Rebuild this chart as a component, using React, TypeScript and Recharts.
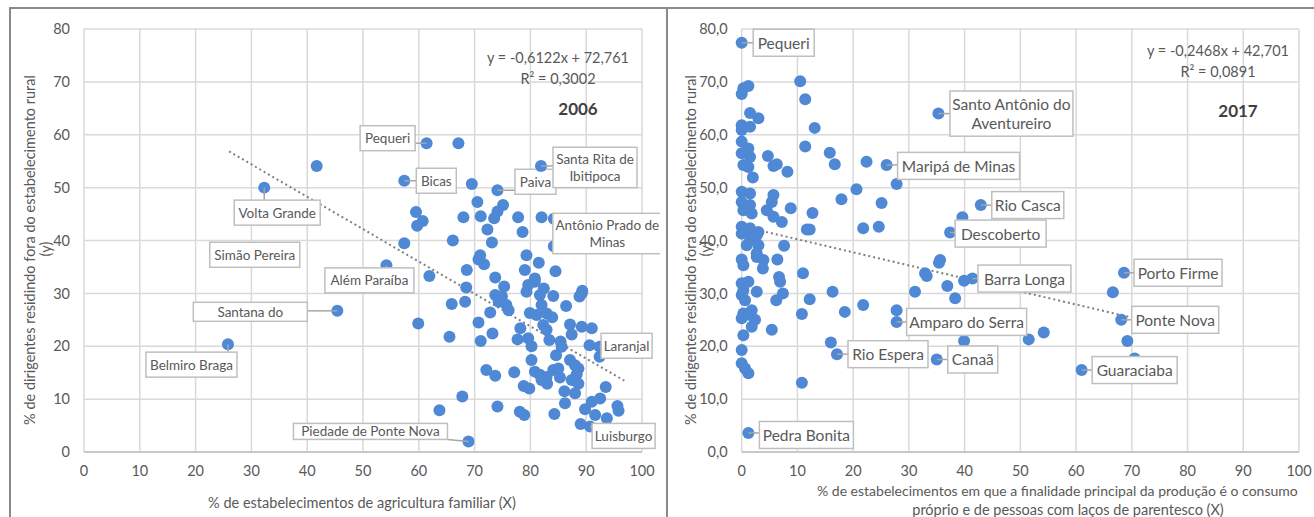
import React from "react";
import {
  ScatterChart,
  Scatter,
  XAxis,
  YAxis,
  CartesianGrid,
  ReferenceLine,
} from "recharts";

const DOT = "#4f88d4";
const GRID = "#d9d9d9";
const TEXT = "#595959";
const FONT = "Lato, 'Open Sans', sans-serif";

// ── 2006: % agricultura familiar (x) vs % dirigentes fora (y) ────────────────
const X_2006 = [
  41.7, 69.5, 70.5, 75.1, 74.1, 73.5, 71.1, 68.0, 59.5, 60.7, 59.7, 77.8, 82.0,
  72.3, 78.6, 66.1, 73.1, 57.4, 84.2, 71.0, 70.7, 71.7, 79.3, 81.5, 79.0, 84.5,
  80.8, 68.6, 61.9, 73.7, 75.3, 79.6, 80.8, 82.4, 89.3, 68.5, 79.3, 81.7, 84.1,
  89.2, 88.8, 73.7, 74.9, 74.3, 75.7, 76.1, 68.3, 65.9, 72.8, 70.7, 59.9, 65.5,
  73.2, 71.1, 82.0, 86.4, 79.9, 81.1, 82.9, 83.9, 78.2, 82.3, 82.9, 87.1, 87.4,
  89.2, 91.0, 77.7, 79.6, 83.4, 80.2, 85.4, 84.6, 85.6, 90.6, 92.4, 80.2, 72.1,
  73.7, 77.1, 80.8, 81.7, 82.9, 84.1, 85.0, 85.3, 82.0, 83.0, 87.1, 88.0, 88.6,
  88.3, 87.4, 88.6, 78.8, 79.8, 86.1, 88.0, 93.5, 92.5, 91.0, 89.8, 86.2, 95.6,
  95.8, 91.6, 93.7, 89.0, 67.8, 63.7, 74.1, 78.1, 78.9, 84.3, 67.1,
];
const Y_2006 = [
  54.1, 50.7, 47.3, 46.7, 45.5, 44.2, 44.6, 44.4, 45.4, 43.7, 42.8, 44.4, 44.4,
  42.1, 41.6, 40.0, 39.6, 39.5, 38.9, 37.2, 36.4, 35.5, 37.2, 35.8, 34.4, 34.2,
  32.8, 34.4, 33.3, 33.0, 31.3, 31.6, 32.2, 30.9, 30.5, 31.1, 30.3, 29.7, 29.5,
  30.0, 29.4, 29.7, 29.4, 28.4, 27.8, 26.8, 28.4, 28.0, 26.4, 24.5, 24.3, 21.8,
  22.4, 21.0, 27.8, 27.6, 26.3, 25.9, 26.2, 25.5, 23.4, 24.0, 23.1, 24.1, 22.2,
  23.7, 23.4, 21.3, 21.5, 21.2, 20.0, 20.9, 18.3, 19.9, 20.2, 18.0, 17.4, 15.5,
  14.4, 15.1, 15.2, 14.6, 14.2, 15.5, 15.8, 14.1, 13.6, 12.9, 17.4, 16.4, 15.8,
  14.7, 13.6, 12.9, 12.5, 12.0, 11.5, 11.1, 12.3, 10.1, 9.5, 8.1, 9.2, 8.7,
  7.8, 7.0, 6.4, 5.3, 10.5, 7.9, 8.6, 7.6, 7.0, 7.2, 58.4,
];
const NAMES_2006 = [
  "Pequeri", "Bicas", "Paiva", "Santa Rita de Ibitipoca", "Antônio Prado de Minas",
  "Laranjal", "Luisburgo", "Piedade de Ponte Nova", "Além Paraíba", "Santana do",
  "Simão Pereira", "Volta Grande", "Belmiro Braga",
];
const NX_2006 = [61.4, 57.4, 74.1, 81.9, 84.2, 92.4, 90.7, 68.9, 54.2, 45.4, 30.6, 32.3, 25.8];
const NY_2006 = [58.4, 51.3, 49.5, 54.1, 44.1, 19.9, 4.8, 2.0, 35.3, 26.7, 37.3, 50.0, 20.4];

// ── 2017: % autoconsumo/parentesco (x) vs % dirigentes fora (y) ──────────────
const X_2017 = [
  10.5, 11.4, 1.2, 0.3, 0, 1.5, 3.0, 13.1, 0, 1.5, 0, 11.4, 15.8, 16.7, 22.4,
  27.8, 0, 1.2, 0, 1.5, 0.3, 1.2, 2.0, 4.7, 5.7, 6.3, 8.2, 20.6, 17.9, 25.1, 0,
  1.5, 0, 1.5, 0.3, 1.8, 5.7, 5.4, 4.5, 5.7, 7.2, 8.8, 12.7, 21.8, 24.6, 11.7,
  12.2, 0, 1.5, 3.0, 39.6, 35.6, 0, 1.2, 2.7, 1.5, 3.0, 0.9, 2.7, 3.9, 2.7, 0,
  0.3, 3.8, 6.4, 7.6, 6.7, 6.9, 11.0, 0, 1.2, 2.7, 0.3, 0, 0.6, 1.8, 0.3, 1.5,
  2.4, 0, 1.8, 0.3, 0, 0, 0.6, 1.2, 7.4, 6.2, 5.4, 12.2, 10.8, 16.3, 18.5, 21.8,
  27.8, 16.0, 10.8, 31.1, 32.9, 33.2, 35.4, 36.9, 38.3, 39.9, 39.9, 66.6, 69.2,
  70.5, 51.5, 54.2,
];
const Y_2017 = [
  70.1, 66.7, 69.2, 68.8, 67.7, 64.1, 63.1, 61.3, 61.8, 61.5, 60.9, 57.8, 56.6,
  54.4, 54.9, 50.7, 58.7, 57.4, 56.5, 55.8, 54.3, 53.9, 51.9, 56.0, 54.1, 54.4,
  53.0, 49.7, 47.8, 47.1, 49.2, 48.9, 47.3, 46.7, 45.7, 45.1, 48.6, 47.3, 45.7,
  44.5, 43.5, 46.1, 45.2, 42.3, 42.6, 42.1, 42.1, 42.6, 42.3, 41.6, 44.4, 36.3,
  41.3, 41.6, 41.0, 40.1, 39.1, 39.1, 37.6, 36.3, 36.9, 36.4, 35.3, 34.7, 36.4,
  39.0, 33.1, 32.2, 33.8, 31.9, 32.2, 30.3, 30.6, 29.7, 28.7, 26.8, 26.2, 25.9,
  25.0, 25.3, 23.7, 22.1, 19.3, 16.8, 15.8, 14.9, 30.0, 28.7, 23.1, 28.9, 26.1,
  30.3, 26.5, 27.8, 26.8, 20.7, 13.1, 30.3, 33.8, 33.3, 35.8, 31.4, 29.1, 32.4,
  21.0, 30.2, 21.0, 17.7, 21.3, 22.6,
];
const NAMES_2017 = [
  "Pequeri", "Santo Antônio do Aventureiro", "Maripá de Minas", "Rio Casca",
  "Descoberto", "Barra Longa", "Porto Firme", "Ponte Nova", "Guaraciaba",
  "Amparo do Serra", "Rio Espera", "Canaã", "Pedra Bonita",
];
const NX_2017 = [0, 35.3, 26.0, 42.9, 37.4, 41.4, 68.6, 68.1, 61.0, 27.8, 17.1, 35.0, 1.2];
const NY_2017 = [77.4, 64.0, 54.3, 46.7, 41.5, 32.8, 33.9, 25.0, 15.5, 24.6, 18.5, 17.5, 3.6];

const TICKS_X = [0, 10, 20, 30, 40, 50, 60, 70, 80, 90, 100];
const TICKS_Y = [0, 10, 20, 30, 40, 50, 60, 70, 80];

// trend lines (Excel equations shown on the chart)
const TREND_2006 = { a: -0.6122, b: 72.761, from: 26, to: 97 };
const TREND_2017 = { a: -0.2468, b: 42.701, from: 0, to: 69.5 };

// ── label boxes: centre offset from the dot (px), box width ──────────────────
type Lay = { dx: number; dy: number; w: number; h?: number; lines?: string[]; noDot?: boolean };

const LAYOUT_2006: Record<string, Lay> = {
  Pequeri: { dx: -39, dy: -5, w: 55 },
  Bicas: { dx: 32, dy: 0, w: 40 },
  Paiva: { dx: 38, dy: -8.5, w: 41 },
  "Santa Rita de Ibitipoca": { dx: 54, dy: 1.5, w: 84, lines: ["Santa Rita de", "Ibitipoca"] },
  "Antônio Prado de Minas": { dx: 53.5, dy: 14.7, w: 109, lines: ["Antônio Prado de", "Minas"] },
  Laranjal: { dx: 27, dy: -1, w: 51 },
  Luisburgo: { dx: 33.5, dy: 9.3, w: 63 },
  "Piedade de Ponte Nova": { dx: -98, dy: -10, w: 154, h: 16 },
  "Além Paraíba": { dx: -17, dy: 15, w: 89 },
  "Santana do": { dx: -87, dy: 1, w: 114, h: 19 },
  "Simão Pereira": { dx: 0, dy: 0, w: 90, noDot: true },
  "Volta Grande": { dx: 13, dy: 25, w: 86 },
  "Belmiro Braga": { dx: -36.5, dy: 20.5, w: 91 },
};

const LAYOUT_2017: Record<string, Lay> = {
  Pequeri: { dx: 42, dy: 0, w: 61 },
  "Santo Antônio do Aventureiro": { dx: 73, dy: 0, w: 123, lines: ["Santo Antônio do", "Aventureiro"] },
  "Maripá de Minas": { dx: 72, dy: 1, w: 122 },
  "Rio Casca": { dx: 47, dy: 0, w: 72 },
  Descoberto: { dx: 50.5, dy: 1, w: 91 },
  "Barra Longa": { dx: 52, dy: 0, w: 93 },
  "Porto Firme": { dx: 54, dy: 0, w: 88 },
  "Ponte Nova": { dx: 54, dy: 0, w: 87 },
  Guaraciaba: { dx: 53, dy: 0, w: 85 },
  "Amparo do Serra": { dx: 70, dy: 0, w: 120 },
  "Rio Espera": { dx: 51, dy: 0, w: 80 },
  "Canaã": { dx: 36, dy: 0, w: 50 },
  "Pedra Bonita": { dx: 58, dy: 2, w: 94 },
};

const zip = (xs: number[], ys: number[]) => xs.map((x, i) => ({ x, y: ys[i] }));
const zipNamed = (names: string[], xs: number[], ys: number[]) =>
  names.map((name, i) => ({ name, x: xs[i], y: ys[i] }));

const dotShape = (p: any) => <circle cx={p.cx} cy={p.cy} r={6} fill={DOT} />;

function labelShape(layout: Record<string, Lay>, fontSize: number, boxH: number) {
  return (p: any) => {
    const { cx, cy, payload } = p;
    const lay = layout[payload.name];
    if (!lay) return <g />;
    const lines = lay.lines ?? [payload.name];
    const lh = fontSize * 1.2;
    const h = lay.h ?? (lines.length === 1 ? boxH : lines.length * lh + 8);
    const bx = cx + lay.dx - lay.w / 2;
    const by = cy + lay.dy - h / 2;
    const nx = Math.max(bx, Math.min(cx, bx + lay.w));
    const ny = Math.max(by, Math.min(cy, by + h));
    return (
      <g>
        {!lay.noDot && <circle cx={cx} cy={cy} r={6} fill={DOT} />}
        {!lay.noDot && (
          <line x1={cx} y1={cy} x2={nx} y2={ny} stroke="#a6a6a6" strokeWidth={1.5} />
        )}
        <rect x={bx} y={by} width={lay.w} height={h} fill="#fff" stroke="#bfbfbf" strokeWidth={1.5} />
        {lines.map((t, i) => (
          <text
            key={t}
            x={cx + lay.dx}
            y={cy + lay.dy + (i - (lines.length - 1) / 2) * lh}
            textAnchor="middle"
            dominantBaseline="central"
            fontSize={fontSize}
            fontFamily={FONT}
            fill={TEXT}
          >
            {t}
          </text>
        ))}
      </g>
    );
  };
}

const fmtComma = (v: number) => v.toFixed(1).replace(".", ",");

function Panel({
  width,
  left,
  right,
  points,
  named,
  layout,
  labelFont,
  boxH,
  trend,
  yFmt,
}: {
  width: number;
  left: number;
  right: number;
  points: { x: number; y: number }[];
  named: { name: string; x: number; y: number }[];
  layout: Record<string, Lay>;
  labelFont: number;
  boxH: number;
  trend: { a: number; b: number; from: number; to: number };
  yFmt?: (v: number) => string;
}) {
  const tick = { fontSize: 14.5, fill: TEXT, fontFamily: FONT };
  return (
    <ScatterChart
      width={width}
      height={517}
      margin={{ top: 29, right, bottom: 35, left: left - 50 }}
    >
      <CartesianGrid stroke={GRID} strokeWidth={1.5} />
      <XAxis
        type="number"
        dataKey="x"
        domain={[0, 100]}
        ticks={TICKS_X}
        tick={tick}
        tickLine={false}
        tickSize={0}
        tickMargin={14}
        axisLine={{ stroke: "#bfbfbf", strokeWidth: 1.5 }}
        height={30}
      />
      <YAxis
        type="number"
        dataKey="y"
        domain={[0, 80]}
        ticks={TICKS_Y}
        tick={tick}
        tickLine={false}
        tickSize={0}
        tickMargin={14}
        axisLine={false}
        width={50}
        tickFormatter={yFmt}
      />
      <Scatter data={points} shape={dotShape} isAnimationActive={false} />
      <ReferenceLine
        segment={[
          { x: trend.from, y: trend.a * trend.from + trend.b },
          { x: trend.to, y: trend.a * trend.to + trend.b },
        ]}
        stroke="#7f7f7f"
        strokeWidth={2}
        strokeDasharray="2 3"
      />
      <Scatter
        data={named}
        shape={labelShape(layout, labelFont, boxH)}
        isAnimationActive={false}
      />
    </ScatterChart>
  );
}

export default function App() {
  const t = { fontFamily: FONT, fill: TEXT, fontSize: 14.5 } as const;
  return (
    <div
      style={{
        position: "fixed",
        left: 0,
        top: 0,
        width: 1314,
        height: 517,
        background: "#fff",
        overflow: "hidden",
      }}
    >
      <div style={{ position: "absolute", left: 0, top: 0, width: 660, height: 517, overflow: "hidden" }}>
        <Panel
          width={660}
          left={84}
          right={18}
          points={zip(X_2006, Y_2006)}
          named={zipNamed(NAMES_2006, NX_2006, NY_2006)}
          layout={LAYOUT_2006}
          labelFont={13.5}
          boxH={25}
          trend={TREND_2006}
        />
      </div>
      <div style={{ position: "absolute", left: 660, top: 0, width: 654, height: 517, background: "#fff" }}>
        <Panel
          width={654}
          left={81.7}
          right={15}
          points={zip(X_2017, Y_2017)}
          named={zipNamed(NAMES_2017, NX_2017, NY_2017)}
          layout={LAYOUT_2017}
          labelFont={15.5}
          boxH={27}
          trend={TREND_2017}
          yFmt={fmtComma}
        />
      </div>
      <svg
        width={1314}
        height={517}
        style={{ position: "absolute", left: 0, top: 0, pointerEvents: "none" }}
      >
        {/* frames */}
        <line x1={9} y1={8} x2={1314} y2={8} stroke="#8a8a8a" strokeWidth={2} />
        <line x1={10} y1={8} x2={10} y2={517} stroke="#8a8a8a" strokeWidth={2} />
        <line x1={667} y1={8} x2={667} y2={517} stroke="#8a8a8a" strokeWidth={2} />

        {/* y titles */}
        <text {...t} x={29} y={250} textAnchor="middle" dominantBaseline="central" transform="rotate(-90 29 250)">
          % de dirigentes residindo fora do estabelecimento rural
        </text>
        <text {...t} x={45} y={249} textAnchor="middle" dominantBaseline="central" transform="rotate(-90 45 249)">
          (y)
        </text>
        <text {...t} x={690} y={250} textAnchor="middle" dominantBaseline="central" transform="rotate(-90 690 250)">
          % de dirigentes residindo fora do estabelecimento rural
        </text>
        <text {...t} x={705} y={249} textAnchor="middle" dominantBaseline="central" transform="rotate(-90 705 249)">
          (y)
        </text>

        {/* x titles */}
        <text {...t} x={362} y={502} textAnchor="middle" dominantBaseline="central">
          % de estabelecimentos de agricultura familiar (X)
        </text>
        <text {...t} fontSize={14} x={817} y={490} textAnchor="start" dominantBaseline="central">
          % de estabelecimentos em que a finalidade principal da produção é o consumo
        </text>
        <text {...t} x={1068} y={509} textAnchor="middle" dominantBaseline="central">
          próprio e de pessoas com laços de parentesco (X)
        </text>

        {/* equations + years */}
        <text {...t} x={558} y={57} textAnchor="middle" dominantBaseline="central">
          y = -0,6122x + 72,761
        </text>
        <text {...t} x={558} y={78} textAnchor="middle" dominantBaseline="central">
          R² = 0,3002
        </text>
        <text x={578} y={108} textAnchor="middle" dominantBaseline="central" fontFamily={FONT} fontSize={17} fontWeight="bold" fill="#404040">
          2006
        </text>
        <text {...t} x={1218} y={50} textAnchor="middle" dominantBaseline="central">
          y = -0,2468x + 42,701
        </text>
        <text {...t} x={1218} y={71} textAnchor="middle" dominantBaseline="central">
          R² = 0,0891
        </text>
        <text x={1238} y={110} textAnchor="middle" dominantBaseline="central" fontFamily={FONT} fontSize={17} fontWeight="bold" fill="#404040">
          2017
        </text>
      </svg>
    </div>
  );
}
